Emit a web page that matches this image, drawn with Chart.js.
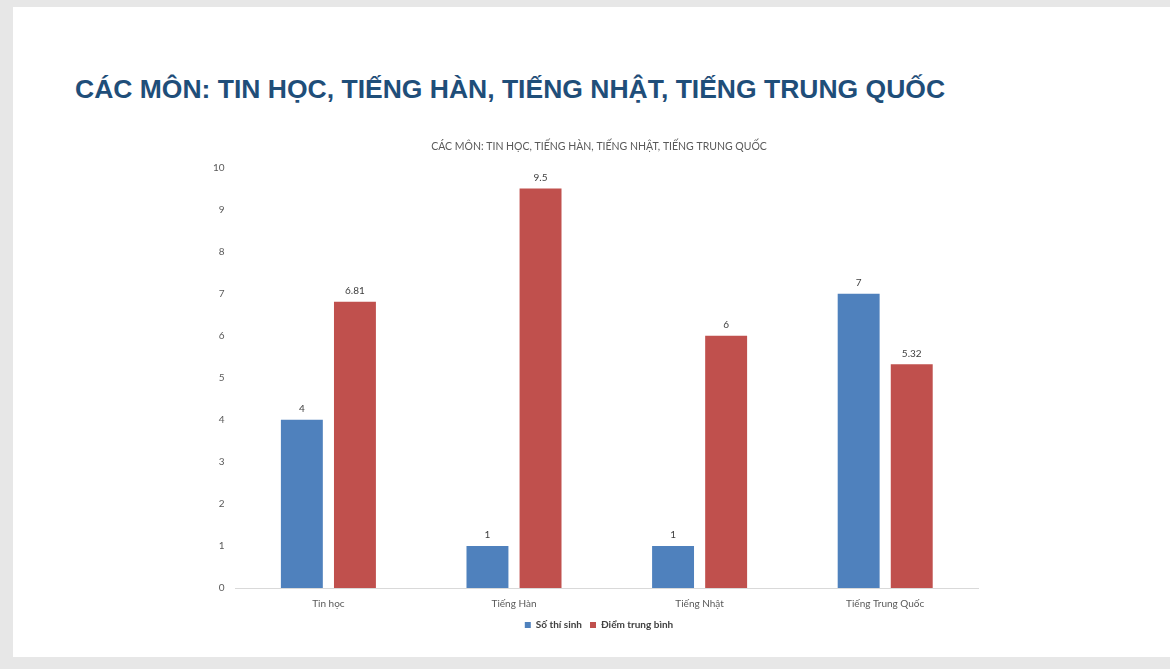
<!DOCTYPE html>
<html>
<head>
<meta charset="utf-8">
<script src="https://cdn.jsdelivr.net/npm/chart.js@4"></script>
<style>
  html, body { margin: 0; padding: 0; background: #e7e7e7; }
  body { width: 1170px; height: 669px; position: relative; overflow: hidden; }
  #slide { position: absolute; left: 13px; top: 7px; width: 1157px; height: 650px; background: #fff; }
  #heading {
    position: absolute; left: 75px; top: 76px; margin: 0;
    font: bold 26.5px "Liberation Sans", Arial, sans-serif; line-height: 1;
    color: #1f4e79; white-space: nowrap;
  }
  #wrap { position: absolute; left: 0; top: 0; width: 1170px; height: 669px; }
</style>
</head>
<body>
<div id="slide"></div>
<h1 id="heading">CÁC MÔN: TIN HỌC, TIẾNG HÀN, TIẾNG NHẬT, TIẾNG TRUNG QUỐC</h1>
<div id="wrap"><canvas id="chart"></canvas></div>
<script>
const subjects = ['Tin học', 'Tiếng Hàn', 'Tiếng Nhật', 'Tiếng Trung Quốc']
const candidates = [4, 1, 1, 7]
const avgScores = [6.81, 9.5, 6, 5.32]
const chartTitle = 'CÁC MÔN: TIN HỌC, TIẾNG HÀN, TIẾNG NHẬT, TIẾNG TRUNG QUỐC'

const font = 'Lato, "Open Sans", sans-serif'

// values printed over each bar
const barLabels = {
  id: 'barLabels',
  afterDatasetsDraw(chart) {
    let ctx = chart.ctx
    ctx.save()
    ctx.font = '10px ' + font
    ctx.fillStyle = '#404040'
    ctx.textAlign = 'center'
    ctx.textBaseline = 'bottom'
    chart.data.datasets.forEach((ds, i) => {
      chart.getDatasetMeta(i).data.forEach((bar, j) => {
        ctx.fillText(String(ds.data[j]), bar.x, bar.y - 6)
      })
    })
    ctx.restore()
  }
}

new Chart(document.querySelector('#chart'), {
  type: 'bar',
  data: {
    labels: subjects,
    datasets: [
      { label: 'Số thí sinh', data: candidates, backgroundColor: '#4f81bd' },
      { label: 'Điểm trung bình', data: avgScores, backgroundColor: '#c0504d' }
    ]
  },
  options: {
    responsive: true,
    maintainAspectRatio: false,
    animation: false,
    layout: { padding: { left: 202, right: 174, top: 140, bottom: 29 } },
    categoryPercentage: 0.572,
    barPercentage: 0.79,
    plugins: {
      title: {
        display: true,
        text: chartTitle,
        color: '#595959',
        font: { family: font, size: 10.5, weight: 'normal' },
        padding: { top: 0, bottom: 15 }
      },
      legend: {
        position: 'bottom',
        labels: {
          boxWidth: 6, boxHeight: 6,
          color: '#404040',
          font: { family: font, size: 10, weight: 'bold' },
          padding: 8
        }
      },
      tooltip: { enabled: false }
    },
    scales: {
      x: {
        grid: { display: false },
        border: { display: true, color: '#d9d9d9' },
        ticks: { color: '#595959', font: { family: font, size: 10 }, padding: 2 }
      },
      y: {
        min: 0, max: 10,
        ticks: { stepSize: 1, color: '#595959', font: { family: font, size: 10 }, padding: 11 },
        grid: { display: false, drawTicks: false, tickLength: 0 },
        border: { display: false }
      },
      // empty right-hand spacer so the title centres like the original
      spacer: {
        type: 'linear', axis: 'y', position: 'right',
        ticks: { display: false },
        grid: { display: false, drawTicks: false },
        border: { display: false },
        afterFit: (s) => { s.width = 18 }
      }
    }
  },
  plugins: [barLabels]
})
</script>
</body>
</html>
